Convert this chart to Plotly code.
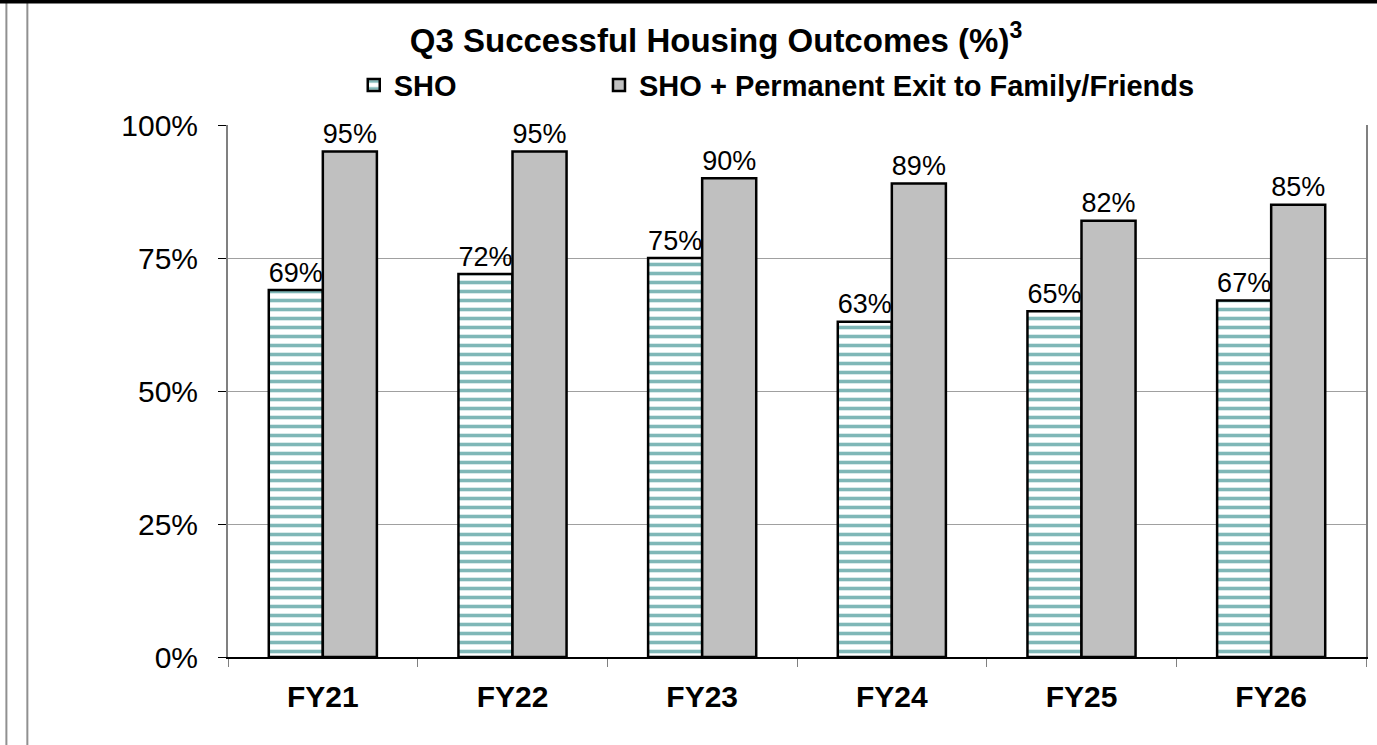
import plotly.graph_objects as go

# Data
years = ["FY21", "FY22", "FY23", "FY24", "FY25", "FY26"]
sho = [69, 72, 75, 63, 65, 67]
sho_family = [95, 95, 90, 89, 82, 85]

y_ticks = [0, 25, 50, 75, 100]
y_tick_text = ["0%", "25%", "50%", "75%", "100%"]

font = "Liberation Sans, Arial, sans-serif"

fig = go.Figure()

fig.add_trace(
    go.Bar(
        name="SHO",
        x=years,
        y=sho,
        text=[f"{v}%" for v in sho],
        textposition="outside",
        textfont=dict(family=font, size=30, color="black"),
        cliponaxis=False,
        legend="legend",
        marker=dict(
            color="white",
            line=dict(color="black", width=2.5),
            pattern=dict(shape="-", fgcolor="#007070", bgcolor="white",
                         size=9, solidity=0.4),
        ),
    )
)
fig.add_trace(
    go.Bar(
        name="SHO + Permanent Exit to Family/Friends",
        x=years,
        y=sho_family,
        text=[f"{v}%" for v in sho_family],
        textposition="outside",
        textfont=dict(family=font, size=30, color="black"),
        cliponaxis=False,
        legend="legend2",
        marker=dict(color="#C0C0C0", line=dict(color="black", width=2.5)),
    )
)

# frame lines from the surrounding slide
paper_top = 1 + 125 / 532
paper_bottom = -88 / 532
for px in (6, 27):
    xp = (px - 228) / 1140
    fig.add_shape(type="line", xref="paper", yref="paper",
                  x0=xp, x1=xp, y0=paper_bottom, y1=paper_top,
                  line=dict(color="#909090", width=2))
fig.add_shape(type="line", xref="paper", yref="paper",
              x0=-0.21, x1=1.01, y0=paper_top - 0.003, y1=paper_top - 0.003,
              line=dict(color="black", width=4))

legend_style = dict(
    orientation="h",
    xanchor="left",
    y=1.075, yanchor="middle",
    font=dict(family=font, size=29, color="black", weight="bold"),
    itemwidth=30,
    bgcolor="rgba(0,0,0,0)",
)

fig.update_layout(
    width=1377,
    height=745,
    paper_bgcolor="white",
    plot_bgcolor="white",
    margin=dict(l=228, r=9, t=125, b=88),
    bargap=0.43,
    bargroupgap=0,
    title=dict(
        text="Q3 Successful Housing Outcomes (%)<sup>3</sup>",
        font=dict(family=font, size=33, color="black", weight="bold"),
        x=0.52, xref="container", xanchor="center",
        y=1 - 40 / 745, yref="container", yanchor="middle",
    ),
    legend=dict(x=0.1105, **legend_style),
    legend2=dict(x=0.326, **legend_style),
    showlegend=True,
)

fig.update_xaxes(
    showline=True, linecolor="black", linewidth=2,
    ticks="outside", tickson="boundaries", ticklen=8, tickcolor="#808080",
    tickfont=dict(family=font, size=30, color="black", weight="bold"),
    ticklabelstandoff=12,
)
fig.update_yaxes(
    range=[0, 100],
    tickvals=y_ticks, ticktext=y_tick_text,
    showline=True, linecolor="#808080", linewidth=2, mirror=True,
    ticks="outside", ticklen=8, tickcolor="black",
    showgrid=True, gridcolor="#A0A0A0", gridwidth=1,
    tickfont=dict(family=font, size=30, color="black"),
    ticklabelstandoff=14,
    zeroline=False,
)

fig.write_html(
    "out.html",
    config={"displayModeBar": False},
    post_script="document.body.style.margin = '0';",
)
